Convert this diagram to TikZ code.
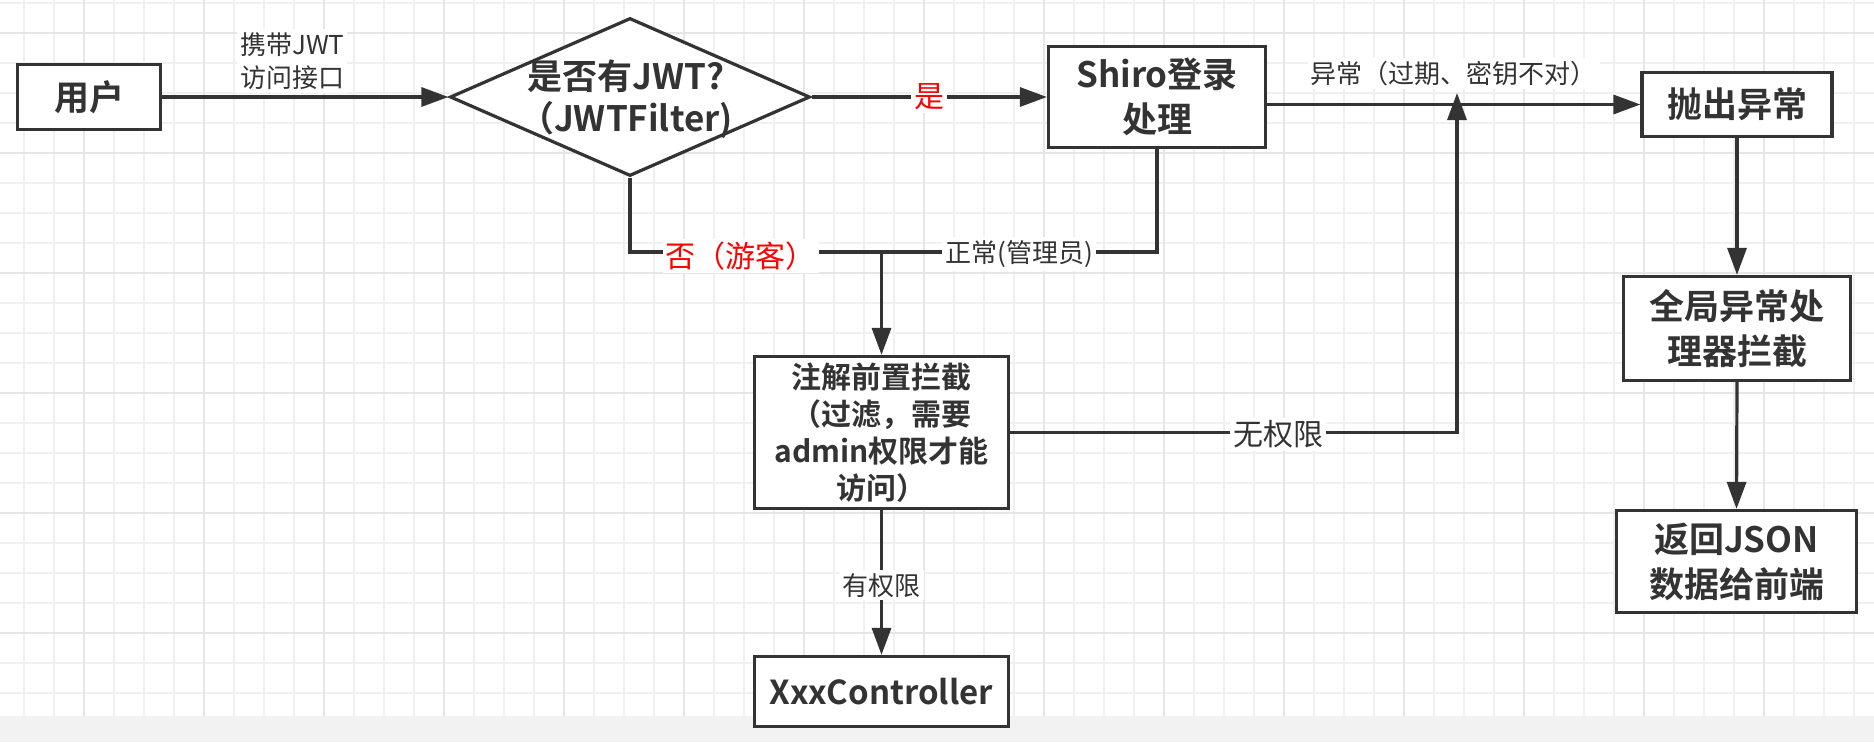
\documentclass[tikz,border=0pt]{standalone}
\usepackage{fontspec}
\newfontfamily\cjk{Noto Sans CJK SC}
\newfontfamily\cjkb{Noto Sans CJK SC Bold}
\usetikzlibrary{arrows.meta,shapes.geometric}
\definecolor{dark}{HTML}{333333}
\definecolor{gridminor}{HTML}{F0F0F0}
\definecolor{gridmajor}{HTML}{E6E6E6}
\definecolor{band}{HTML}{F2F2F2}
\begin{document}
\begin{tikzpicture}[x=1pt,y=-1pt,
  box/.style={draw=dark, line width=3.2pt, fill=white, inner sep=0pt, align=center, text=dark,
    font=\cjkb\fontsize{35}{45}\selectfont},
  edge/.style={draw=dark, line width=3.2pt},
  arr/.style={edge, -{Triangle[length=27pt,width=19pt]}},
  lbl/.style={fill=white, text=dark, inner sep=3pt, align=center, font=\cjk\fontsize{26}{33}\selectfont},
  redlbl/.style={fill=white, text=red, inner sep=3pt, font=\cjk\fontsize{30}{36}\selectfont},
  biglbl/.style={lbl, font=\cjk\fontsize{30}{36}\selectfont}
]
\useasboundingbox (0,0) rectangle (1874,742);
\fill[white] (0,0) rectangle (1874,742);
% grid
\foreach \x in {24,54,...,1874} {\draw[gridminor, line width=2pt] (\x,0) -- (\x,716);}
\foreach \y in {2.7,32.7,...,716} {\draw[gridminor, line width=2pt] (0,\y) -- (1874,\y);}
\foreach \x in {84,204,...,1874} {\draw[gridmajor, line width=2pt] (\x,0) -- (\x,716);}
\foreach \y in {32.7,152.7,...,716} {\draw[gridmajor, line width=2pt] (0,\y) -- (1874,\y);}
\fill[band] (0,716) rectangle (1874,742);

% nodes
\node[box, minimum width=143pt, minimum height=65pt] (user) at (89,97) {用户};
\node[diamond, draw=dark, line width=3.2pt, fill=white, inner sep=0pt, minimum width=360pt, minimum height=158pt] (dia) at (630,97) {};
\node[text=dark, align=center, font=\cjkb\fontsize{35}{42}\selectfont, inner sep=0pt] (diatext) at (626,99) {是否有JWT?\\（JWTFilter)};
\node[box, minimum width=217pt, minimum height=101pt] (shiro) at (1157,97) {Shiro登录\\处理};
\node[box, minimum width=190pt, minimum height=64pt] (throw) at (1737,104.5) {抛出异常};
\node[box, minimum width=227pt, minimum height=104pt] (glob) at (1737,328.5) {全局异常处\\理器拦截};
\node[box, minimum width=240pt, minimum height=102pt] (ret) at (1736.5,561.5) {返回JSON\\数据给前端};
\node[box, minimum width=254pt, minimum height=152pt, font=\cjkb\fontsize{30}{37}\selectfont] (anno) at (881.5,432.5) {注解前置拦截\\（过滤，需要\\admin权限才能\\访问）};
\node[box, minimum width=254pt, minimum height=70pt, font=\cjkb\fontsize{33}{40}\selectfont] (ctrl) at (881.5,691.5) {XxxController};

\coordinate (jn) at (881.5,252);
\coordinate (upT) at (1457,93);

% connectors
\draw[arr] (user.east) -- node[lbl, pos=0.5, xshift=-13pt, yshift=36pt]{携带JWT\\访问接口} (dia.west);
\draw[arr] (dia.east) -- node[redlbl, pos=0.5]{是} (shiro.west);
\draw[edge] (dia.south) |- node[redlbl, pos=0.72, yshift=-4pt]{否（游客）} (jn);
\draw[edge] (shiro.south) |- node[lbl, pos=0.75, yshift=-2pt]{正常(管理员)} (jn);
\draw[arr] (jn) -- (anno.north);
\draw[arr] (shiro.east |- throw.west) -- node[lbl, pos=0.5, yshift=31pt]{异常（过期、密钥不对）} (throw.west);
\draw[arr] (anno.east) -| node[biglbl, pos=0.3, yshift=-2pt]{无权限} (upT);
\draw[arr] (throw.south) -- (glob.north);
\draw[arr] (glob.south) -- (ret.north);
\draw[arr] (anno.south) -- node[lbl, pos=0.52]{有权限} (ctrl.north);
\end{tikzpicture}
\end{document}
